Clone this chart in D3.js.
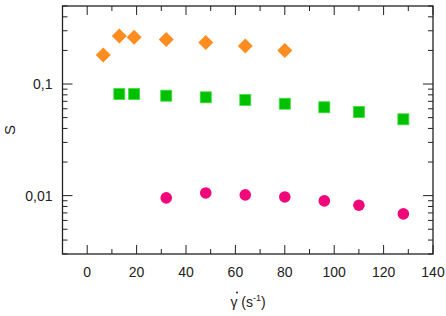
<!DOCTYPE html>
<html><head><meta charset="utf-8">
<script src="https://cdn.jsdelivr.net/npm/d3@7"></script>
<style>body{margin:0;background:#fff}svg{display:block}text{font-family:"Liberation Sans",Arial,sans-serif;fill:#222}</style>
</head><body>
<script>
const orangeX = [6.5, 13, 19, 32, 48, 64, 80];
const orangeY = [0.182, 0.269, 0.263, 0.251, 0.236, 0.219, 0.200];
const greenX = [13, 19, 32, 48, 64, 80, 96, 110, 128];
const greenY = [0.0814, 0.0814, 0.0786, 0.0760, 0.0719, 0.0666, 0.0619, 0.0562, 0.0483];
const pinkX = [32, 48, 64, 80, 96, 110, 128];
const pinkY = [0.00954, 0.01057, 0.01015, 0.00973, 0.00897, 0.0082, 0.00686];
const xTicks = [0, 20, 40, 60, 80, 100, 120, 140];
const yMajor = [0.01, 0.1];
const yMajorLabels = ["0,01", "0,1"];

const W = 446, H = 316;
const m = {left: 62.5, right: 13, top: 6, bottom: 62};
const svg = d3.select("body").append("svg").attr("width", W).attr("height", H);
const x = d3.scaleLinear().domain([-10, 140]).range([m.left, W - m.right]);
const y = d3.scaleLog().domain([0.003, 0.5]).range([H - m.bottom, m.top]);

const minorY = [];
[0.001, 0.01, 0.1].forEach(d => { for (let k = 2; k <= 9; k++) { const v = d * k; if (v >= 0.003 && v <= 0.5) minorY.push(v); } });
const xMinor = d3.range(-10, 141, 10).filter(v => v % 20 !== 0);

const g = svg.append("g").attr("stroke", "#222").attr("stroke-width", 1);
const x0 = x.range()[0], x1 = x.range()[1], y0 = y.range()[0], y1 = y.range()[1];
g.append("rect").attr("x", x0).attr("y", y1).attr("width", x1 - x0).attr("height", y0 - y1).attr("fill", "none").attr("stroke-width", 1.3);

xTicks.forEach(v => {
  g.append("line").attr("x1", x(v)).attr("x2", x(v)).attr("y1", y0).attr("y2", y0 - 9);
  g.append("line").attr("x1", x(v)).attr("x2", x(v)).attr("y1", y1).attr("y2", y1 + 9);
});
xMinor.forEach(v => {
  g.append("line").attr("x1", x(v)).attr("x2", x(v)).attr("y1", y0).attr("y2", y0 - 5);
  g.append("line").attr("x1", x(v)).attr("x2", x(v)).attr("y1", y1).attr("y2", y1 + 5);
});
yMajor.forEach(v => {
  g.append("line").attr("x1", x0).attr("x2", x0 + 10).attr("y1", y(v)).attr("y2", y(v));
  g.append("line").attr("x1", x1).attr("x2", x1 - 10).attr("y1", y(v)).attr("y2", y(v));
});
minorY.forEach(v => {
  g.append("line").attr("x1", x0).attr("x2", x0 + 5).attr("y1", y(v)).attr("y2", y(v));
  g.append("line").attr("x1", x1).attr("x2", x1 - 5).attr("y1", y(v)).attr("y2", y(v));
});

svg.selectAll(".xl").data(xTicks).enter().append("text")
  .attr("x", d => x(d)).attr("y", y0 + 23).attr("text-anchor", "middle").attr("font-size", 14).text(d => d);
svg.selectAll(".yl").data(yMajor).enter().append("text")
  .attr("x", x0 - 10).attr("y", d => y(d) + 5).attr("text-anchor", "end").attr("font-size", 14).text((d, i) => yMajorLabels[i]);
svg.append("text").attr("transform", "translate(15,130) rotate(-90)").attr("text-anchor", "middle").attr("font-size", 15).text("S");
const xl = svg.append("text").attr("x", 248).attr("y", 307).attr("text-anchor", "middle").attr("font-size", 14);
xl.append("tspan").text("γ (s");
xl.append("tspan").attr("font-size", 9).attr("dy", -6).text("-1");
xl.append("tspan").attr("dy", 6).text(")");
svg.append("circle").attr("cx", 237).attr("cy", 292.5).attr("r", 1).attr("fill", "#222");

const pts = (xs, ys) => xs.map((v, i) => [v, ys[i]]);
svg.append("g").selectAll("path").data(pts(orangeX, orangeY)).enter().append("path")
  .attr("d", d3.symbol().type(d3.symbolSquare).size(112)())
  .attr("transform", d => `translate(${x(d[0])},${y(d[1])}) rotate(45)`).attr("fill", "#FF8C1F");
svg.append("g").selectAll("rect").data(pts(greenX, greenY)).enter().append("rect")
  .attr("x", d => x(d[0]) - 5.5).attr("y", d => y(d[1]) - 5.5).attr("width", 11).attr("height", 11)
  .attr("fill", "#00C000").attr("stroke", "#3ce03c").attr("stroke-width", 0.8);
svg.append("g").selectAll("circle.p").data(pts(pinkX, pinkY)).enter().append("circle")
  .attr("cx", d => x(d[0])).attr("cy", d => y(d[1])).attr("r", 5.8).attr("fill", "#F0087A");
</script>
</body></html>
